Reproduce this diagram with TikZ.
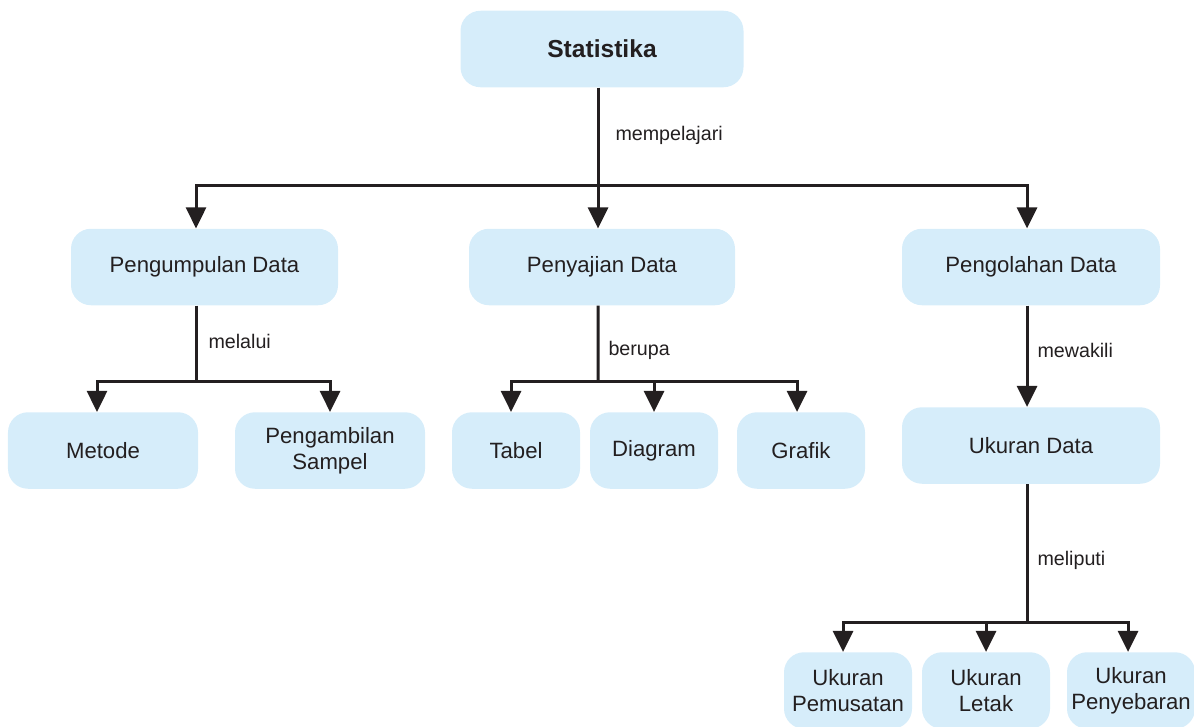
\documentclass[tikz,border=0pt]{standalone}
\usepackage{fontspec}
\setmainfont{Liberation Sans}
\usetikzlibrary{arrows.meta}

\definecolor{boxblue}{RGB}{214,237,250}
\definecolor{inkdark}{RGB}{35,31,32}

\begin{document}
\begin{tikzpicture}[
    box/.style={rectangle, rounded corners=0.4cm, fill=boxblue, text=inkdark, align=center, inner sep=0pt, minimum height=1.53cm, font=\fontsize{12.6}{15}\selectfont},
    wide/.style={box, minimum width=5.2cm},
    small/.style={box, minimum width=2.56cm},
    mid/.style={box, minimum width=3.8cm},
    link/.style={draw=inkdark, line width=0.06cm},
    arrow/.style={link, -{Triangle[width=0.4cm,length=0.42cm]}},
    lbl/.style={anchor=west, inner sep=0pt, text=inkdark, xshift=0.18cm, font=\fontsize{11.2}{13}\selectfont}
]
\useasboundingbox (0,0) rectangle (23.88,-14.52);

% Top
\node[box, minimum width=5.66cm, font=\bfseries\fontsize{14}{16}\selectfont] (stat) at (12.04,-0.98) {Statistika};

% Level 1
\node[wide, minimum width=5.34cm] (kumpul) at (4.09,-5.34) {Pengumpulan Data};
\node[wide, minimum width=5.32cm] (saji) at (12.04,-5.34) {Penyajian Data};
\node[wide, minimum width=5.16cm] (olah) at (20.62,-5.34) {Pengolahan Data};

% Level 2
\node[mid] (metode) at (2.06,-9.01) {Metode};
\node[mid] (sampel) at (6.6,-9.01) {Pengambilan\\Sampel};
\node[small] (tabel) at (10.32,-9.01) {Tabel};
\node[small] (diagram) at (13.08,-9.01) {Diagram};
\node[small] (grafik) at (16.02,-9.01) {Grafik};
\node[wide, minimum width=5.16cm] (ukdata) at (20.62,-8.91) {Ukuran Data};

% Level 3
\node[small] (pusat) at (16.96,-13.81) {Ukuran\\Pemusatan};
\node[small] (letak) at (19.72,-13.81) {Ukuran\\Letak};
\node[small] (sebar) at (22.62,-13.81) {Ukuran\\Penyebaran};

% Junctions
\coordinate (j1) at (11.96,-3.7);
\coordinate (j2) at (3.92,-7.62);
\coordinate (j3) at (11.96,-7.62);
\coordinate (j4) at (20.54,-12.44);

% Arrows
\draw[arrow] ([xshift=-0.08cm]stat.south) -- ([xshift=-0.08cm]saji.north) node[lbl, pos=0.34, xshift=0.14cm] {mempelajari};
\draw[arrow] (j1) -| ([xshift=-0.17cm]kumpul.north);
\draw[arrow] (j1) -| ([xshift=-0.08cm]olah.north);

\draw[link] ([xshift=-0.17cm]kumpul.south) -- (j2) node[lbl, pos=0.47, xshift=0.04cm] {melalui};
\draw[arrow] (j2) -| ([xshift=-0.12cm]metode.north);
\draw[arrow] (j2) -| (sampel.north);

\draw[link] ([xshift=-0.08cm]saji.south) -- (j3) node[lbl, pos=0.59] {berupa};
\draw[arrow] (j3) -| ([xshift=-0.1cm]tabel.north);
\draw[arrow] (j3) -| (diagram.north);
\draw[arrow] (j3) -| ([xshift=-0.08cm]grafik.north);

\draw[arrow] ([xshift=-0.08cm]olah.south) -- ([xshift=-0.08cm]ukdata.north) node[lbl, pos=0.44] {mewakili};

\draw[link] ([xshift=-0.08cm]ukdata.south) -- (j4) node[lbl, pos=0.55] {meliputi};
\draw[arrow] (j4) -| ([xshift=-0.1cm]pusat.north);
\draw[arrow] (j4) -| (letak.north);
\draw[arrow] (j4) -| ([xshift=-0.06cm]sebar.north);

\end{tikzpicture}
\end{document}
